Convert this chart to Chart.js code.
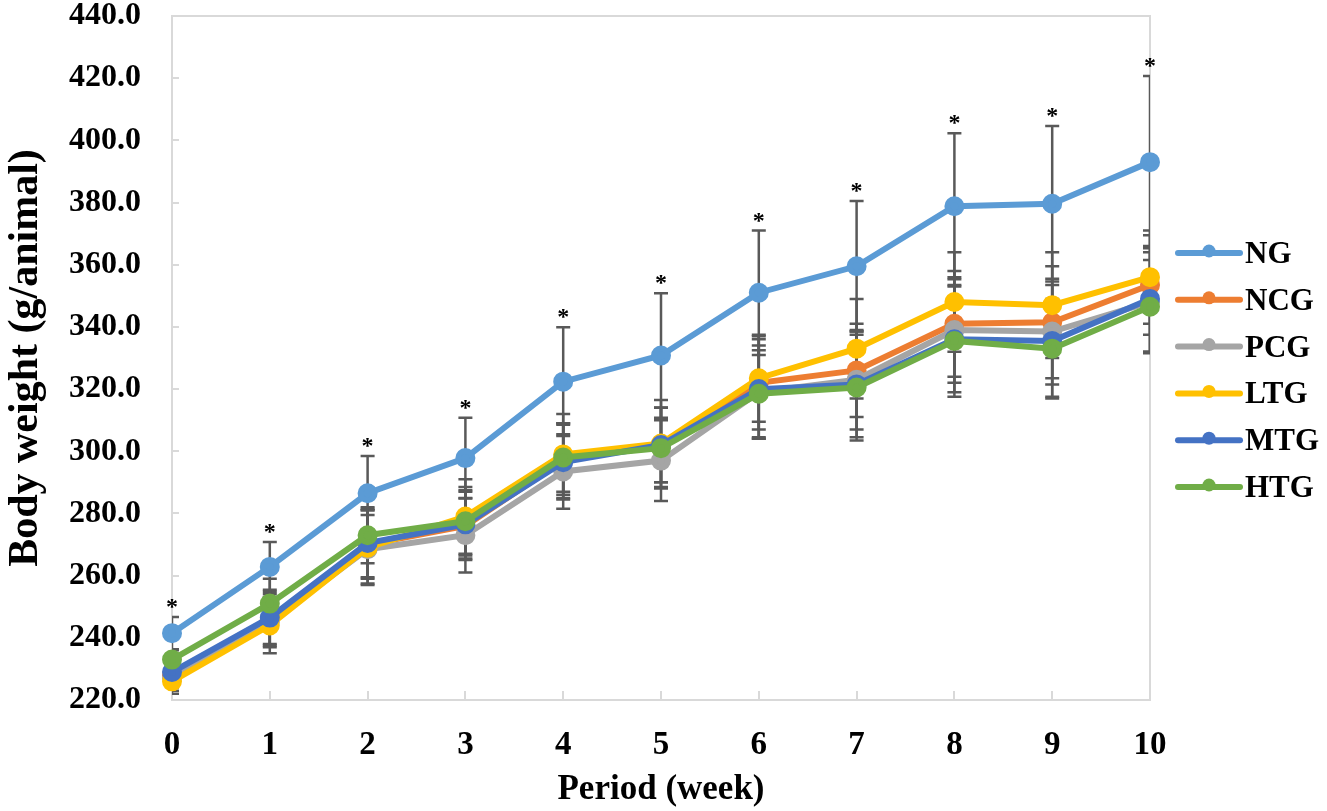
<!DOCTYPE html>
<html>
<head>
<meta charset="utf-8">
<script src="https://cdn.jsdelivr.net/npm/chart.js@4"></script>
<style>
html,body{margin:0;padding:0;background:#fff;}
#wrap{width:1327px;height:811px;position:relative;}
</style>
</head>
<body>
<div id="wrap"><canvas id="c" width="1327" height="811"></canvas></div>
<script>
const weeks = ['0','1','2','3','4','5','6','7','8','9','10'];
const yTicks = [220,240,260,280,300,320,340,360,380,400,420,440];
const seriesNames = ['NG','NCG','PCG','LTG','MTG','HTG'];
const NG  = [241.5, 262.8, 286.5, 297.8, 322.4, 330.8, 351.0, 359.5, 378.8, 379.6, 393.0];
const NCG = [228.0, 246.0, 270.0, 276.0, 297.0, 302.0, 322.0, 326.0, 341.0, 341.5, 353.5];
const PCG = [227.0, 245.0, 268.5, 273.0, 293.5, 297.0, 319.0, 323.0, 339.0, 338.5, 348.0];
const LTG = [226.0, 244.0, 269.0, 279.0, 299.0, 302.5, 323.5, 333.0, 348.0, 347.0, 356.0];
const MTG = [229.0, 246.5, 270.5, 276.5, 296.5, 302.0, 320.0, 321.5, 336.0, 335.5, 349.0];
const HTG = [233.0, 251.0, 273.0, 277.5, 298.0, 301.0, 318.5, 320.5, 335.5, 333.0, 346.5];
const NG_SD  = [5.2, 8, 12, 13, 17.5, 20, 20, 21, 23.5, 25, 27.7];
const NCG_SD = [4, 8, 11, 11, 12, 12, 15, 15, 17, 18, 16];
const PCG_SD = [4, 8, 11, 12, 12, 13, 15, 16, 17, 17, 16];
const LTG_SD = [4, 9, 12, 12, 13, 14, 14, 16, 16, 17, 15];
const MTG_SD = [4, 9, 11, 11, 12, 12, 16, 17, 17, 18, 17];
const HTG_SD = [3, 8, 9, 11, 11, 13, 14, 17, 18, 16, 15];
const significant = [true,true,true,true,true,true,true,true,true,true,true];

const seriesValues = [NG, NCG, PCG, LTG, MTG, HTG];
const seriesSD = [NG_SD, NCG_SD, PCG_SD, LTG_SD, MTG_SD, HTG_SD];
const colors = ['#5B9BD5','#ED7D31','#A5A5A5','#FFC000','#4472C4','#70AD47'];

const SERIF = '"Liberation Serif", "Times New Roman", serif';

const datasets = seriesNames.map((n,i)=>({
  label:n,
  data:seriesValues[i],
  borderColor:colors[i],
  backgroundColor:colors[i],
  pointBackgroundColor:colors[i],
  pointBorderColor:colors[i],
  borderWidth:6,
  pointRadius:7,
  pointHoverRadius:7,
  tension:0,
  order:5-i,
  sd:seriesSD[i]
}));

const frame = {
  id:'frame',
  beforeDatasetsDraw(chart){
    const {ctx, chartArea:a, scales:{x,y}} = chart;
    ctx.save();
    ctx.strokeStyle='#d9d9d9';
    ctx.lineWidth=2;
    ctx.strokeRect(a.left, a.top, a.right-a.left, a.bottom-a.top);
    ctx.beginPath();
    yTicks.forEach(v=>{const py=Math.round(y.getPixelForValue(v)); ctx.moveTo(a.left,py); ctx.lineTo(a.left+7,py);});
    weeks.forEach((w,i)=>{const px=Math.round(x.getPixelForValue(i)); ctx.moveTo(px,a.bottom); ctx.lineTo(px,a.bottom-9);});
    ctx.stroke();
    ctx.beginPath();
    ctx.rect(a.left, a.top, a.right-a.left, a.bottom-a.top);
    ctx.clip();
    ctx.strokeStyle='#595959';
    ctx.lineWidth=2.5;
    chart.data.datasets.forEach(ds=>{
      ds.data.forEach((v,i)=>{
        const px=x.getPixelForValue(i);
        const yt=y.getPixelForValue(v+ds.sd[i]);
        const yb=y.getPixelForValue(v-ds.sd[i]);
        ctx.beginPath();
        ctx.moveTo(px,yt); ctx.lineTo(px,yb);
        ctx.moveTo(px-7,yt); ctx.lineTo(px+7,yt);
        ctx.moveTo(px-7,yb); ctx.lineTo(px+7,yb);
        ctx.stroke();
      });
    });
    ctx.restore();
  },
  afterDatasetsDraw(chart){
    const {ctx, chartArea:a, scales:{x,y}} = chart;
    ctx.save();
    ctx.fillStyle='#000';
    ctx.font='bold 24px '+SERIF;
    ctx.textAlign='center';
    ctx.textBaseline='alphabetic';
    NG.forEach((v,i)=>{
      if(!significant[i]) return;
      const px=x.getPixelForValue(i);
      const py=y.getPixelForValue(v+NG_SD[i]);
      ctx.fillText('*', px, py-3);
    });
    const lx0=a.right+28, lx1=a.right+90, ly0=253, step=46.8;
    ctx.font='bold 31px '+SERIF;
    ctx.textAlign='left';
    ctx.textBaseline='middle';
    seriesNames.forEach((n,i)=>{
      const ly=ly0+i*step;
      ctx.strokeStyle=colors[i];
      ctx.lineWidth=6;
      ctx.lineCap='round';
      ctx.beginPath(); ctx.moveTo(lx0,ly); ctx.lineTo(lx1,ly); ctx.stroke();
      ctx.fillStyle=colors[i];
      ctx.beginPath(); ctx.arc((lx0+lx1)/2, ly-2, 6.5, 0, Math.PI*2); ctx.fill();
      ctx.fillStyle='#000';
      ctx.fillText(n, lx1+5, ly+2);
    });
    ctx.restore();
  }
};

new Chart(document.getElementById('c'), {
  type:'line',
  data:{labels:weeks, datasets},
  options:{
    responsive:false,
    animation:false,
    devicePixelRatio:1,
    layout:{padding:{left:0,right:177,top:0,bottom:0}},
    plugins:{legend:{display:false},tooltip:{enabled:false}},
    scales:{
      x:{
        type:'category',
        offset:false,
        grid:{display:false, drawTicks:false},
        border:{display:false},
        ticks:{padding:26, color:'#000', font:{family:SERIF, size:33, weight:'bold'}, maxRotation:0, autoSkip:false},
        title:{display:true, text:'Period (week)', color:'#000', font:{family:SERIF, size:35, weight:'bold'}, padding:{top:0,bottom:0}},
        afterFit(s){ s.height = 111; }
      },
      y:{
        min:220, max:440,
        grid:{display:true, drawOnChartArea:false, drawTicks:true, tickLength:31, color:'rgba(0,0,0,0)', tickColor:'rgba(0,0,0,0)'},
        border:{display:false},
        afterBuildTicks(s){ s.ticks = yTicks.map(v=>({value:v})); },
        ticks:{padding:0, color:'#000', font:{family:SERIF, size:32, weight:'bold', lineHeight:1.0}, callback:(v)=>Number(v).toFixed(1)},
        title:{display:true, text:'Body weight (g/animal)', color:'#000', font:{family:SERIF, size:42, weight:'bold'}, padding:{top:1,bottom:0}},
        afterFit(s){ s.width = 172; }
      }
    }
  },
  plugins:[frame]
});
</script>
</body>
</html>
